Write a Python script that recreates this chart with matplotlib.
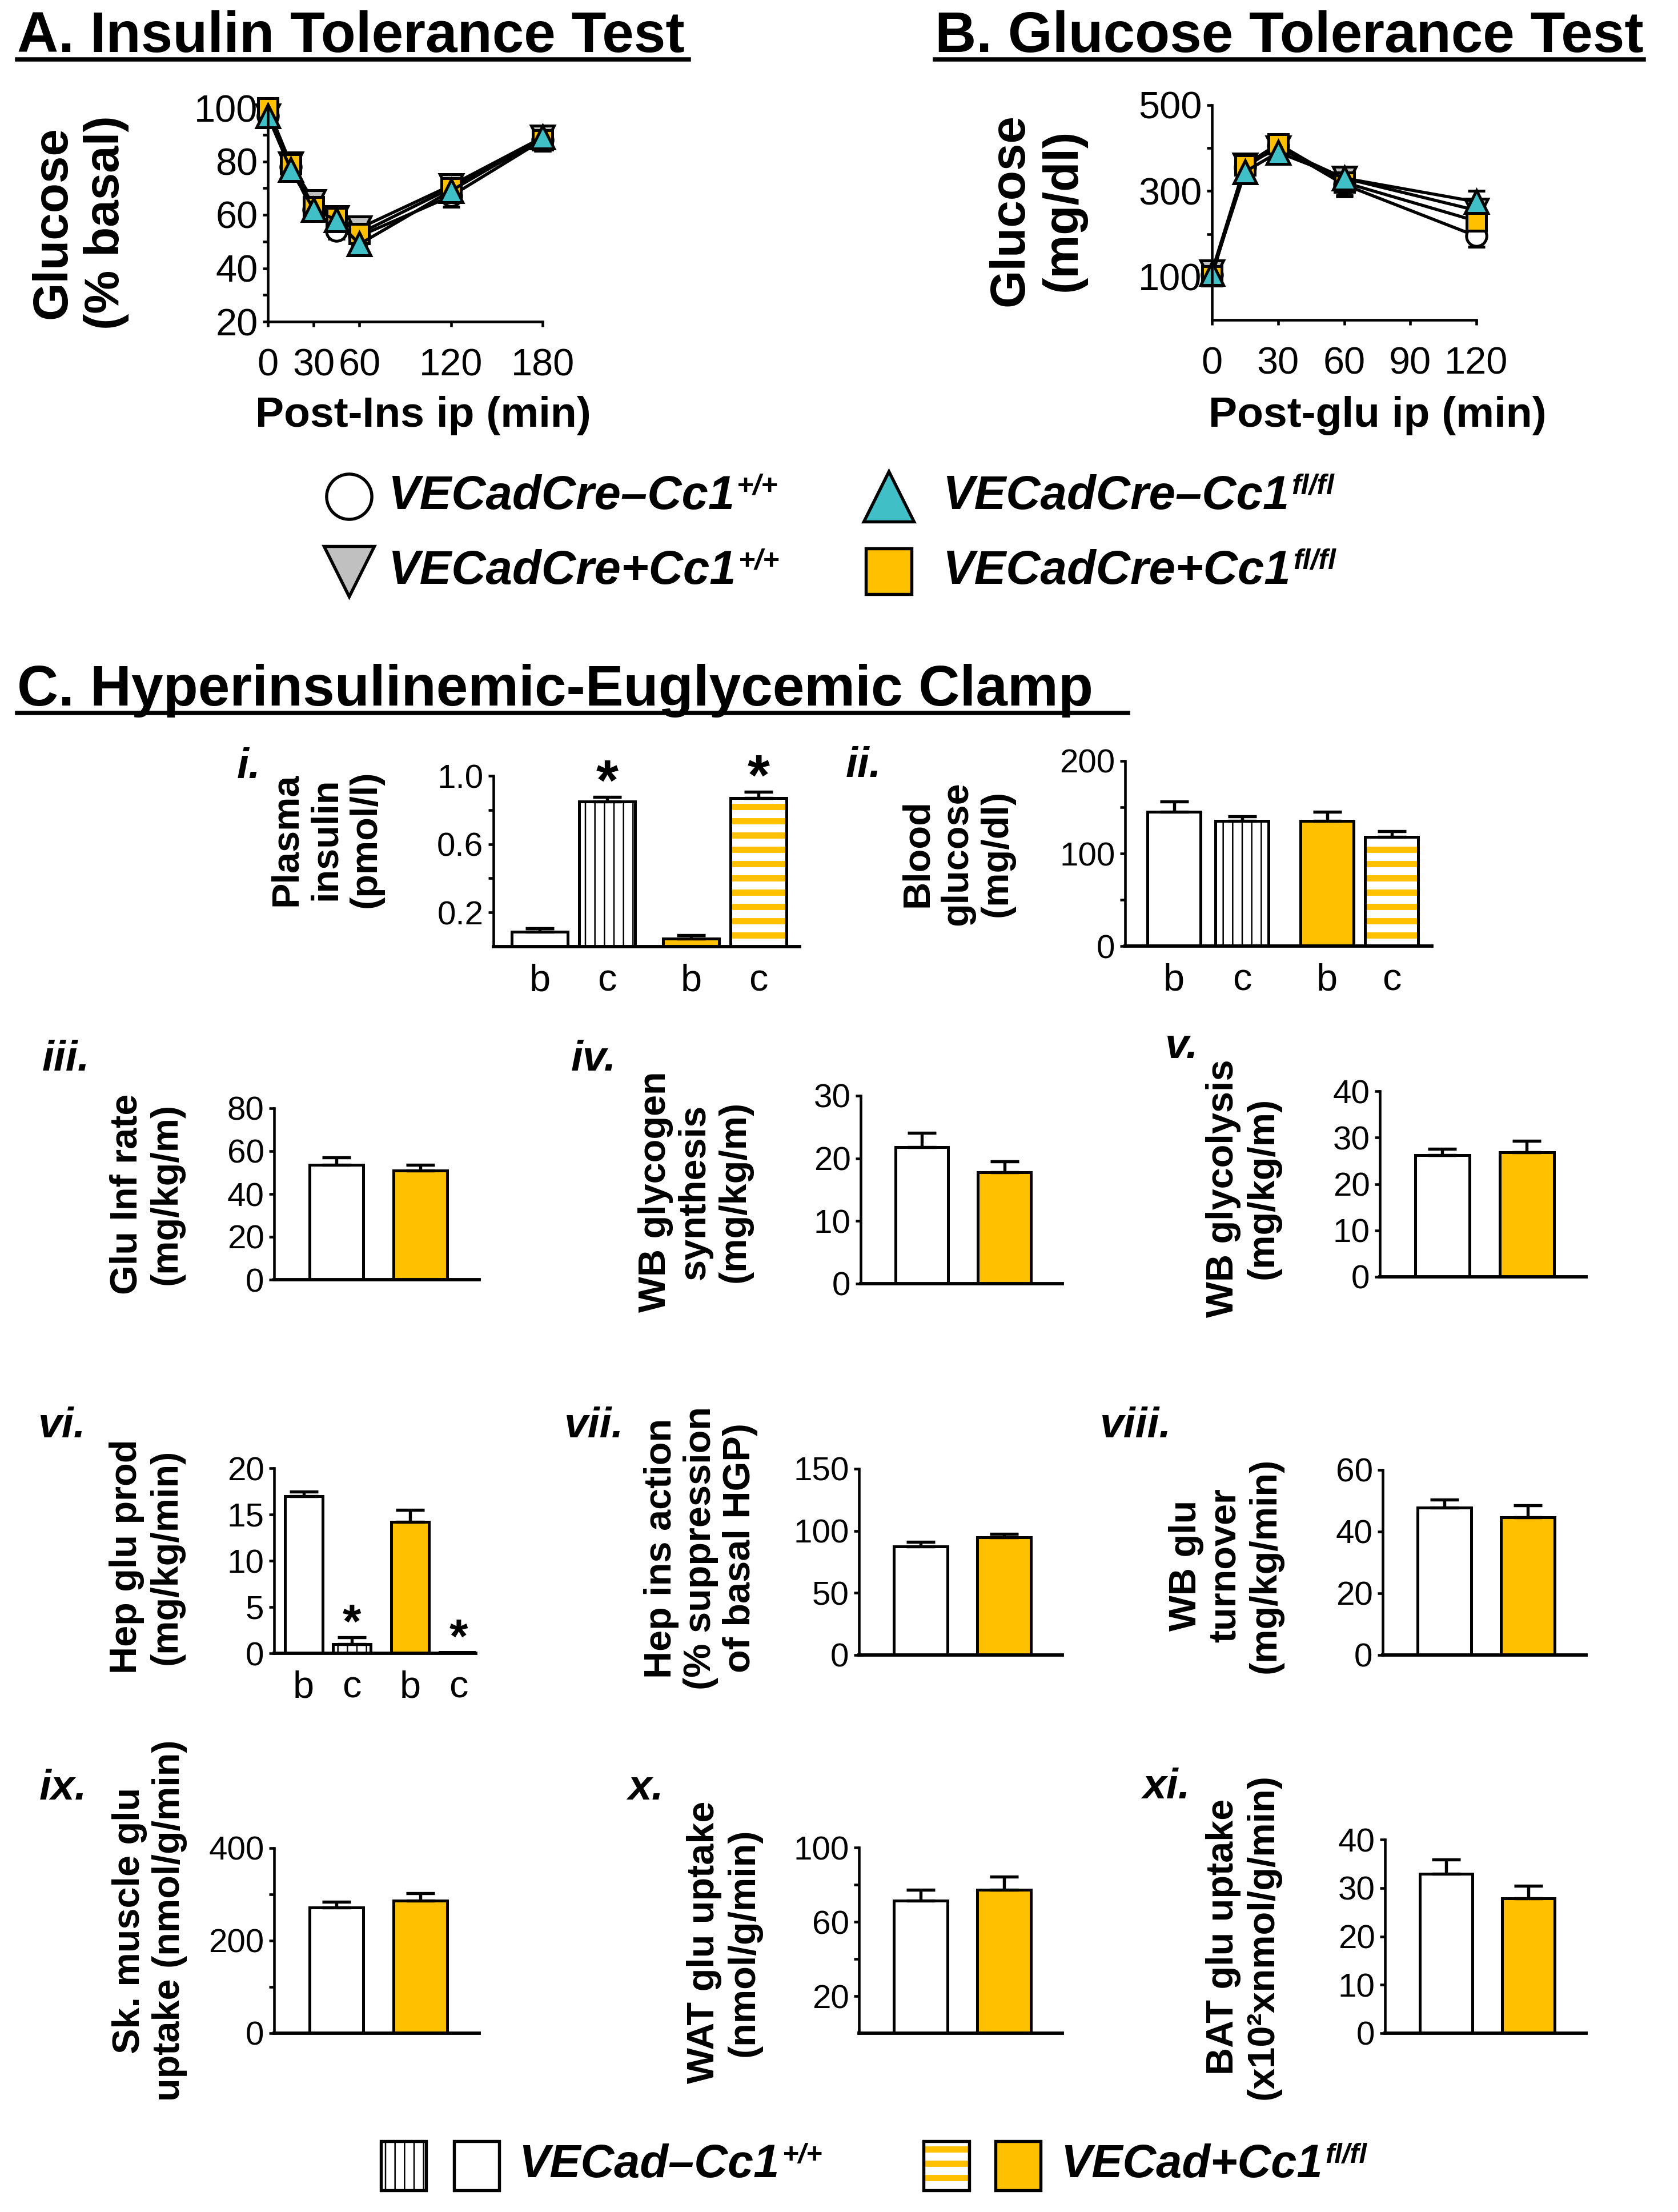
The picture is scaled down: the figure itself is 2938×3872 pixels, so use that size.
import matplotlib
matplotlib.use('Agg')
import matplotlib.pyplot as plt
from matplotlib import font_manager
from matplotlib.patches import Rectangle

# ---- values ----
# A. insulin tolerance test (% basal)
itt_min = [0, 15, 30, 45, 60, 120, 180]
itt_wt = [97, 78, 62, 54, 52, 67, 88]
itt_wt_sem = [3, 3, 3, 3, 3, 4, 4]
itt_fl = [97, 77, 62, 58, 49, 69, 89]
itt_fl_sem = [3, 3, 2, 3, 3, 3, 4]
itt_cre = [97, 79, 65, 59, 55, 71, 89]
itt_cre_sem = [3, 3, 3, 2, 3, 3, 4]
itt_crefl = [100, 79, 63, 59, 53, 70, 88]
itt_crefl_sem = [3, 3, 3, 3, 3, 3, 4]

# B. glucose tolerance test (mg/dl)
gtt_min = [0, 15, 30, 60, 120]
gtt_wt = [105, 355, 405, 315, 195]
gtt_wt_sem = [12, 20, 25, 28, 25]
gtt_fl = [108, 345, 390, 330, 275]
gtt_fl_sem = [10, 20, 20, 25, 25]
gtt_cre = [112, 360, 400, 330, 255]
gtt_cre_sem = [10, 18, 18, 25, 20]
gtt_crefl = [102, 360, 410, 320, 230]
gtt_crefl_sem = [12, 20, 20, 30, 20]

# C. clamp
bc_labels = ['b', 'c', 'b', 'c']
insulin = [0.086, 0.85, 0.047, 0.868]
insulin_sem = [0.02, 0.025, 0.02, 0.037]
blood_glu = [145, 135, 135, 118]
blood_glu_sem = [11, 5, 10, 6]
gir = [53.5, 51.0]
gir_sem = [3.5, 2.5]
glycogen = [21.8, 17.8]
glycogen_sem = [2.3, 1.7]
glycolysis = [26.2, 26.8]
glycolysis_sem = [1.4, 2.5]
hgp = [17.0, 1.0, 14.2, 0.1]
hgp_sem = [0.5, 0.7, 1.3, 0.0]
hep_ins = [87.6, 94.7]
hep_ins_sem = [3.7, 2.7]
turnover = [47.8, 44.6]
turnover_sem = [2.5, 3.9]
skm_uptake = [271, 286]
skm_uptake_sem = [13, 17]
wat_uptake = [71.5, 77.2]
wat_uptake_sem = [5.7, 7.0]
bat_uptake = [32.9, 27.8]
bat_uptake_sem = [3.0, 2.7]

GOLD = '#FFC000'
TEAL = '#40BFC7'
GREY = '#C0C0C0'

W, H = 2938, 3872
DPI = 300
plt.rcParams['font.family'] = ['Liberation Sans', 'DejaVu Sans']
plt.rcParams['axes.linewidth'] = 1.1

# tick numbers in the original are a narrow face
installed = {f.name for f in font_manager.fontManager.ttflist}
if 'Liberation Sans Narrow' in installed:
    TICK_FAM = ['Liberation Sans Narrow', 'Liberation Sans']
    TICK_SCALE = 1.08
else:
    TICK_FAM = ['Liberation Sans', 'DejaVu Sans']
    TICK_SCALE = 1.0

fig = plt.figure(figsize=(W / DPI, H / DPI), dpi=DPI)


def box(l, t, r, b):
    return [l / W, 1 - b / H, (r - l) / W, (b - t) / H]


# overlay in pixel coords for titles, labels and legends
ov = fig.add_axes([0, 0, 1, 1])
ov.set_xlim(0, W)
ov.set_ylim(H, 0)
ov.axis('off')


def section_title(x0, x1, y, s):
    ov.text(x0, y, s, fontsize=24, fontweight='bold', ha='left', va='baseline')
    ov.plot([x0, x1], [y + 13, y + 13], color='black', lw=1.8)


section_title(30, 1206, 91, 'A. Insulin Tolerance Test')
section_title(1637, 2878, 91, 'B. Glucose Tolerance Test')
section_title(30, 1975, 1235, 'C. Hyperinsulinemic-Euglycemic Clamp')


def ylab(x, y, s, fs=16, ls=1.15):
    ov.text(x, y, s, rotation=90, fontsize=fs, fontweight='bold', ha='center', va='center',
            multialignment='center', linespacing=ls)


def roman(x, y, s):
    ov.text(x, y, s, fontsize=18, fontweight='bold', fontstyle='italic', ha='left', va='center')


def sup_label(x, y, main, sup, fs):
    t = ov.text(x, y, main, fontsize=fs, fontweight='bold', fontstyle='italic', ha='left', va='center')
    ov.annotate(sup, xy=(1, 0.72), xycoords=t, xytext=(1, 0), textcoords='offset points',
                fontsize=fs * 0.6, fontweight='bold', fontstyle='italic', ha='left', va='center')


def style(ax, fs=16):
    for s in ['top', 'right']:
        ax.spines[s].set_visible(False)
    ax.tick_params(axis='both', which='both', direction='out', length=2.2, width=1.1,
                   labelsize=fs * TICK_SCALE, pad=2)
    for lab in ax.get_xticklabels() + ax.get_yticklabels():
        lab.set_family(TICK_FAM)


# ---- A and B: line plots ----
groups_itt = [(itt_wt, itt_wt_sem, 'o', 'white', 8.5),
              (itt_cre, itt_cre_sem, 'v', GREY, 9.5),
              (itt_crefl, itt_crefl_sem, 's', GOLD, 8),
              (itt_fl, itt_fl_sem, '^', TEAL, 9.5)]
groups_gtt = [(gtt_wt, gtt_wt_sem, 'o', 'white', 8.5),
              (gtt_cre, gtt_cre_sem, 'v', GREY, 9.5),
              (gtt_crefl, gtt_crefl_sem, 's', GOLD, 8),
              (gtt_fl, gtt_fl_sem, '^', TEAL, 9.5)]


def line_panel(ax, t, groups):
    for vals, sem, m, c, ms in groups:
        cont = ax.errorbar(t, vals, yerr=sem, fmt='-', color='black', lw=1.3, marker=m, mfc=c,
                           mec='black', ms=ms, mew=1.2, capsize=3.5, elinewidth=1.4, capthick=1.4)
        for a in cont.get_children():
            a.set_clip_on(False)


axA = fig.add_axes(box(469, 189, 950, 563))
axA.set_xlim(0, 180)
axA.set_ylim(20, 100)
line_panel(axA, itt_min, groups_itt)
axA.set_yticks([20, 40, 60, 80, 100])
axA.set_yticks([30, 50, 70, 90], minor=True)
axA.set_xticks([0, 30, 60, 120, 180])
style(axA, 16)
axA.tick_params(axis='x', pad=9)

axB = fig.add_axes(box(2122, 184, 2585, 560))
axB.set_xlim(0, 120)
axB.set_ylim(0, 500)
line_panel(axB, gtt_min, groups_gtt)
axB.set_yticks([100, 300, 500])
axB.set_yticks([200, 400], minor=True)
axB.set_xticks([0, 30, 60, 90, 120])
style(axB, 16)
axB.tick_params(axis='x', pad=9)

ylab(140, 390, 'Glucose\n(% basal)', fs=20.5, ls=1.2)
ov.text(741, 727, 'Post-Ins ip (min)', fontsize=18, fontweight='bold', ha='center', va='center')
ylab(1816, 368, 'Glucose\n(mg/dl)', fs=20.5, ls=1.2)
ov.text(2412, 727, 'Post-glu ip (min)', fontsize=18, fontweight='bold', ha='center', va='center')

# top legend
for x, y, m, c, ms in [(611, 869, 'o', 'white', 19), (1556, 869, '^', TEAL, 21),
                       (611, 1000, 'v', GREY, 21), (1556, 1000, 's', GOLD, 19)]:
    ov.plot([x], [y], marker=m, ms=ms, mfc=c, mec='black', mew=1.3, ls='none')
sup_label(679, 869, 'VECadCre–Cc1', '+/+', 20)
sup_label(1650, 869, 'VECadCre–Cc1', 'fl/fl', 20)
sup_label(679, 1000, 'VECadCre+Cc1', '+/+', 20)
sup_label(1650, 1000, 'VECadCre+Cc1', 'fl/fl', 20)


# ---- C: bar panels ----
def hatched(patch_maker, hatch, color, hlw):
    with plt.rc_context({'hatch.linewidth': hlw}):
        ps = patch_maker(facecolor='white', edgecolor=color, hatch=hatch, linewidth=0)
    for p in ps:
        if hasattr(p, 'set_hatch_linewidth'):
            p.set_hatch_linewidth(hlw)
    return ps


def bar_panel(ax, pos, vals, sem, kinds, width):
    for x, v, k in zip(pos, vals, kinds):
        if k == 'white':
            ax.bar(x, v, width, facecolor='white', edgecolor='black', linewidth=1.2, zorder=2)
        elif k == 'gold':
            ax.bar(x, v, width, facecolor=GOLD, edgecolor='black', linewidth=1.2, zorder=2)
        else:
            hatch, col, hlw = ('|||', 'black', 0.6) if k == 'vstripe' else ('--', GOLD, 2.6)
            hatched(lambda **kw: ax.bar(x, v, width, zorder=2, **kw), hatch, col, hlw)
            ax.bar(x, v, width, facecolor='none', edgecolor='black', linewidth=1.2, zorder=3)
    px = [p for p, e in zip(pos, sem) if e > 0]
    pv = [v for v, e in zip(vals, sem) if e > 0]
    pe = [e for e in sem if e > 0]
    ax.errorbar(px, pv, yerr=[[0] * len(pe), pe], fmt='none', ecolor='black', elinewidth=1.3,
                capsize=6, capthick=1.3, zorder=4)
    ax.spines['bottom'].set_linewidth(1.4)


def finish(ax, xlabels=True):
    style(ax, 14)
    ax.tick_params(axis='x', length=0, pad=7, labelsize=16)
    if xlabels:
        for lab in ax.get_xticklabels():
            lab.set_family(['Liberation Sans', 'DejaVu Sans'])


def star(ax, x, y, fs, off):
    ax.annotate('*', xy=(x, y), xytext=(0, off), textcoords='offset points', ha='center',
                va='baseline', fontsize=fs, fontweight='bold')


pos4 = [0, 1, 2.25, 3.25]
pos2 = [0, 1]
kinds4 = ['white', 'vstripe', 'gold', 'hstripe']
kinds2 = ['white', 'gold']

# i. plasma insulin
ax = fig.add_axes(box(864, 1358, 1400, 1657))
bar_panel(ax, pos4, insulin, insulin_sem, kinds4, 0.83)
ax.set_xlim(-0.69, 3.86)
ax.set_ylim(0, 1.0)
ax.set_yticks([0.2, 0.6, 1.0], ['0.2', '0.6', '1.0'])
ax.set_yticks([0.4, 0.8], minor=True)
ax.set_xticks(pos4, bc_labels)
finish(ax)
for i in [1, 3]:
    star(ax, pos4[i], insulin[i] + insulin_sem[i], 24, -1)
roman(415, 1343, 'i.')
ylab(571, 1469, 'Plasma\ninsulin\n(pmol/l)')

# ii. blood glucose
pos4b = [0, 1, 2.25, 3.2]
ax = fig.add_axes(box(1970, 1332, 2507, 1656))
bar_panel(ax, pos4b, blood_glu, blood_glu_sem, kinds4, 0.78)
ax.set_xlim(-0.72, 3.79)
ax.set_ylim(0, 200)
ax.set_yticks([0, 100, 200])
ax.set_yticks([50, 150], minor=True)
ax.set_xticks(pos4b, bc_labels)
finish(ax)
roman(1481, 1340, 'ii.')
ylab(1676, 1494, 'Blood\nglucose\n(mg/dl)')


def two_bar(l, t, r, b, vals, sem, ymax, major, minor=None):
    ax = fig.add_axes(box(l, t, r, b))
    bar_panel(ax, pos2, vals, sem, kinds2, 0.64)
    ax.set_xlim(-0.74, 1.7)
    ax.set_ylim(0, ymax)
    ax.set_yticks(major)
    if minor:
        ax.set_yticks(minor, minor=True)
    ax.set_xticks([])
    finish(ax, False)
    return ax


# row iii - v
two_bar(480, 1940, 839, 2240, gir, gir_sem, 80, [0, 20, 40, 60, 80])
roman(74, 1854, 'iii.')
ylab(257, 2090, 'Glu Inf rate\n(mg/kg/m)')

two_bar(1507, 1918, 1860, 2247, glycogen, glycogen_sem, 30, [0, 10, 20, 30])
roman(1000, 1855, 'iv.')
ylab(1217, 2086, 'WB glycogen\nsynthesis\n(mg/kg/m)')

two_bar(2416, 1910, 2777, 2235, glycolysis, glycolysis_sem, 40, [0, 10, 20, 30, 40])
roman(2040, 1833, 'v.')
ylab(2177, 2080, 'WB glycolysis\n(mg/kg/m)')

# row vi - viii
pos4c = [0, 1, 2.2, 3.2]
ax = fig.add_axes(box(480, 2570, 833, 2894))
bar_panel(ax, pos4c, hgp, hgp_sem, kinds4, 0.78)
ax.set_xlim(-0.61, 3.56)
ax.set_ylim(0, 20)
ax.set_yticks([0, 5, 10, 15, 20])
ax.set_xticks(pos4c, bc_labels)
finish(ax)
for i in [1, 3]:
    star(ax, pos4c[i], hgp[i] + hgp_sem[i], 20, 0)
roman(67, 2496, 'vi.')
ylab(257, 2725, 'Hep glu prod\n(mg/kg/min)')

two_bar(1504, 2571, 1860, 2897, hep_ins, hep_ins_sem, 150, [0, 50, 100, 150])
roman(988, 2496, 'vii.')
ylab(1227, 2710, 'Hep ins action\n(% suppression\nof basal HGP)')

two_bar(2421, 2573, 2777, 2897, turnover, turnover_sem, 60, [0, 20, 40, 60])
roman(1926, 2496, 'viii.')
ylab(2146, 2740, 'WB glu\nturnover\n(mg/kg/min)')

# row ix - xi
two_bar(480, 3235, 839, 3559, skm_uptake, skm_uptake_sem, 400, [0, 200, 400], [100, 300])
roman(69, 3130, 'ix.')
ylab(262, 3362, 'Sk. muscle glu\nuptake (nmol/g/min)')

two_bar(1504, 3234, 1860, 3559, wat_uptake, wat_uptake_sem, 100, [20, 60, 100], [40, 80])
roman(1099, 3130, 'x.')
ylab(1268, 3400, 'WAT glu uptake\n(nmol/g/min)')

two_bar(2425, 3220, 2777, 3559, bat_uptake, bat_uptake_sem, 40, [0, 10, 20, 30, 40])
roman(2000, 3128, 'xi.')
ylab(2177, 3390, 'BAT glu uptake\n(x10²xnmol/g/min)')

# bottom legend
hatched(lambda **kw: [ov.add_patch(Rectangle((667, 3748), 79, 86, **kw))], '|||', 'black', 0.6)
ov.add_patch(Rectangle((667, 3748), 79, 86, facecolor='none', edgecolor='black', lw=1.3))
ov.add_patch(Rectangle((795, 3748), 79, 86, facecolor='white', edgecolor='black', lw=1.3))
sup_label(908, 3790, 'VECad–Cc1', '+/+', 19.5)
hatched(lambda **kw: [ov.add_patch(Rectangle((1617, 3748), 80, 86, **kw))], '--', GOLD, 2.6)
ov.add_patch(Rectangle((1617, 3748), 80, 86, facecolor='none', edgecolor='black', lw=1.3))
ov.add_patch(Rectangle((1743, 3748), 79, 86, facecolor=GOLD, edgecolor='black', lw=1.3))
sup_label(1857, 3790, 'VECad+Cc1', 'fl/fl', 19.5)

fig.savefig('out.png', dpi=DPI)
